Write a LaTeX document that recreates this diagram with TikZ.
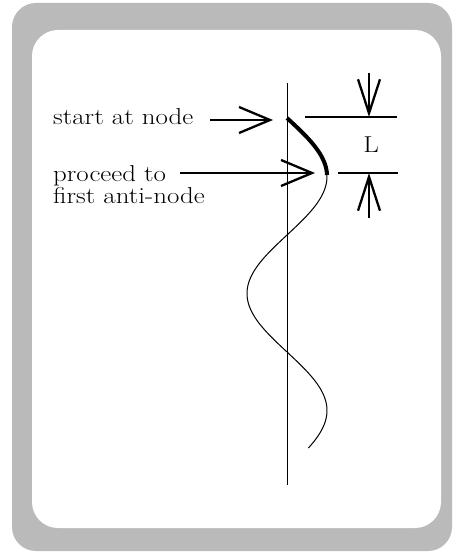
\documentclass[tikz,border=0pt]{standalone}
\usepackage{graphicx}
\usetikzlibrary{arrows.meta}
\newcommand{\widetxt}[1]{\scalebox{1.17}[1]{#1}}
\begin{document}
\begin{tikzpicture}[x=1pt,y=-1pt,
  lbl/.style={inner sep=0pt,anchor=base west,font=\fontsize{23}{22}\selectfont},
  hbarb/.style={line width=2.3pt,-{Straight Barb[length=31pt,width=26pt,line width=2.3pt]}},
  vbarb/.style={line width=2.3pt,-{Straight Barb[length=34pt,width=22pt,line width=2.3pt]}},
  ref/.style={line width=2.3pt},
  axisline/.style={line width=1pt},
  wavethick/.style={line width=4pt},
  wavethin/.style={line width=1pt}]
\useasboundingbox (0,0) rectangle (453,553);
% frame
\fill[black!27,rounded corners=24pt] (12,3) rectangle (452,551);
\fill[white,rounded corners=26pt] (32,30) rectangle (441,528);
% axis
\coordinate (axtop) at (287,83);
\coordinate (axbot) at (287,485);
\draw[axisline] (axtop) -- (axbot);
% wave
\draw[wavethick] plot[domain=118:175,samples=40,variable=\t] ({287+40*sin((\t-118)/58*90)},\t);
\draw[wavethin] plot[domain=175:448,samples=120,variable=\t] ({287+40*sin((\t-118)/58.5*90)},\t);
% labels
\node[lbl] (t1) at (53,125) {\widetxt{start at node}};
\node[lbl] (t2) at (53,182) {\widetxt{proceed to}};
\node[lbl] (t3) at (53,204) {\widetxt{first anti-node}};
% horizontal arrows
\coordinate (a1s) at (210,120);
\coordinate (a1e) at (273,120);
\draw[hbarb] (a1s) -- (a1e);
\coordinate (a2s) at (180,173);
\coordinate (a2e) at (315,173);
\draw[hbarb] (a2s) -- (a2e);
% dimension lines
\coordinate (r1s) at (305,117);
\coordinate (r1e) at (397,117);
\draw[ref] (r1s) -- (r1e);
\coordinate (r2s) at (338,173);
\coordinate (r2e) at (398,173);
\draw[ref] (r2s) -- (r2e);
\coordinate (d1s) at (369,73);
\coordinate (d1e) at (369,117);
\draw[vbarb] (d1s) -- (d1e);
\coordinate (d2s) at (369,218);
\coordinate (d2e) at (369,173);
\draw[vbarb] (d2s) -- (d2e);
\node[lbl,anchor=base] (L) at (371,153) {\widetxt{L}};
\end{tikzpicture}
\end{document}
